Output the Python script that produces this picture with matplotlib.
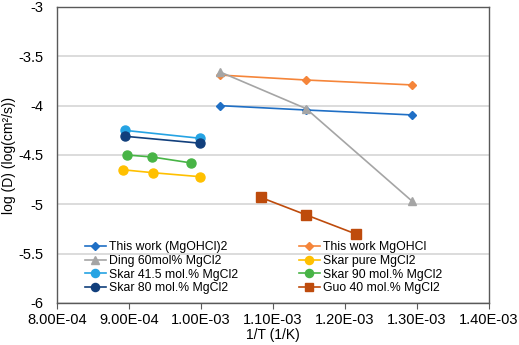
import matplotlib
matplotlib.use("Agg")
import matplotlib.pyplot as plt

plt.rcParams['font.family'] = ['Liberation Sans', 'DejaVu Sans']

# Data (x = 1/T in 1/K, y = log D)
tw2_x = [1.027e-3, 1.146e-3, 1.2935e-3]
tw2_y = [-4.00, -4.044, -4.094]
tw_x = [1.027e-3, 1.146e-3, 1.2935e-3]
tw_y = [-3.69, -3.74, -3.79]
ding_x = [1.027e-3, 1.146e-3, 1.2935e-3]
ding_y = [-3.66, -4.03, -4.97]
skpure_x = [8.92e-4, 9.34e-4, 9.99e-4]
skpure_y = [-4.65, -4.68, -4.72]
sk415_x = [8.94e-4, 9.98e-4]
sk415_y = [-4.25, -4.33]
sk90_x = [8.97e-4, 9.32e-4, 9.86e-4]
sk90_y = [-4.50, -4.52, -4.58]
sk80_x = [8.94e-4, 9.98e-4]
sk80_y = [-4.31, -4.38]
guo_x = [1.083e-3, 1.146e-3, 1.215e-3]
guo_y = [-4.93, -5.107, -5.30]

xticks = [8.0e-4, 9.0e-4, 1.0e-3, 1.1e-3, 1.2e-3, 1.3e-3, 1.4e-3]
xticklabels = ["8.00E-04", "9.00E-04", "1.00E-03", "1.10E-03", "1.20E-03", "1.30E-03", "1.40E-03"]
yticks = [-6, -5.5, -5, -4.5, -4, -3.5, -3]
yticklabels = ["-6", "-5.5", "-5", "-4.5", "-4", "-3.5", "-3"]

fig = plt.figure(figsize=(5.19, 3.45), dpi=100)
ax = fig.add_axes([57/519, 1-303/345, (489-57)/519, (303-7)/345])

lw = 1.2
h = {}
h['tw2'], = ax.plot(tw2_x, tw2_y, color='#1F6FC5', marker='D', ms=4.5, lw=lw, label='This work (MgOHCl)2')
h['tw'], = ax.plot(tw_x, tw_y, color='#F5853A', marker='D', ms=4.5, lw=lw, label='This work MgOHCl')
h['ding'], = ax.plot(ding_x, ding_y, color='#A5A5A5', marker='^', ms=6, lw=lw, label='Ding 60mol% MgCl2')
h['skpure'], = ax.plot(skpure_x, skpure_y, color='#FFC000', marker='o', ms=6.5, lw=lw, label='Skar pure MgCl2')
h['sk415'], = ax.plot(sk415_x, sk415_y, color='#25A3E3', marker='o', ms=6.5, lw=lw, label='Skar 41.5 mol.% MgCl2')
h['sk90'], = ax.plot(sk90_x, sk90_y, color='#48B446', marker='o', ms=6.5, lw=lw, label='Skar 90 mol.% MgCl2')
h['sk80'], = ax.plot(sk80_x, sk80_y, color='#113F7C', marker='o', ms=6.5, lw=lw, label='Skar 80 mol.% MgCl2')
h['guo'], = ax.plot(guo_x, guo_y, color='#BE4B0C', marker='s', ms=6.5, lw=lw, label='Guo 40 mol.% MgCl2')

ax.set_xlim(8.0e-4, 1.4e-3)
ax.set_ylim(-6, -3)
ax.set_xticks(xticks)
ax.set_xticklabels(xticklabels)
ax.set_yticks(yticks)
ax.set_yticklabels(yticklabels)
ax.tick_params(axis='both', labelsize=10.5, colors='#000000')
ax.tick_params(axis='y', length=0, pad=10)
ax.tick_params(axis='x', length=4, color='#595959', pad=3)
ax.yaxis.grid(True, color='#D9D9D9', lw=1.3)
ax.set_axisbelow(True)
for s in ax.spines.values():
    s.set_color('#595959')
    s.set_linewidth(1.0)

ax.set_xlabel('1/T (1/K)', fontsize=10, labelpad=1)
ax.set_ylabel('log (D) (log(cm²/s))', fontsize=10)
ax.yaxis.set_label_coords(16/519, 0.5 * (1-303/345) + 0.5 * (1-7/345), transform=fig.transFigure)

order = ['tw2', 'ding', 'sk415', 'sk80', 'tw', 'skpure', 'sk90', 'guo']
fig.legend([h[k] for k in order], [h[k].get_label() for k in order], ncol=2,
           loc='upper left', bbox_to_anchor=(85/519, 1-241/345), frameon=False,
           fontsize=8.8, borderpad=0, borderaxespad=0, handlelength=1.7,
           handletextpad=0.25, columnspacing=5.0, labelspacing=0.15, markerscale=0.9)

fig.savefig('out.png', dpi=100)
